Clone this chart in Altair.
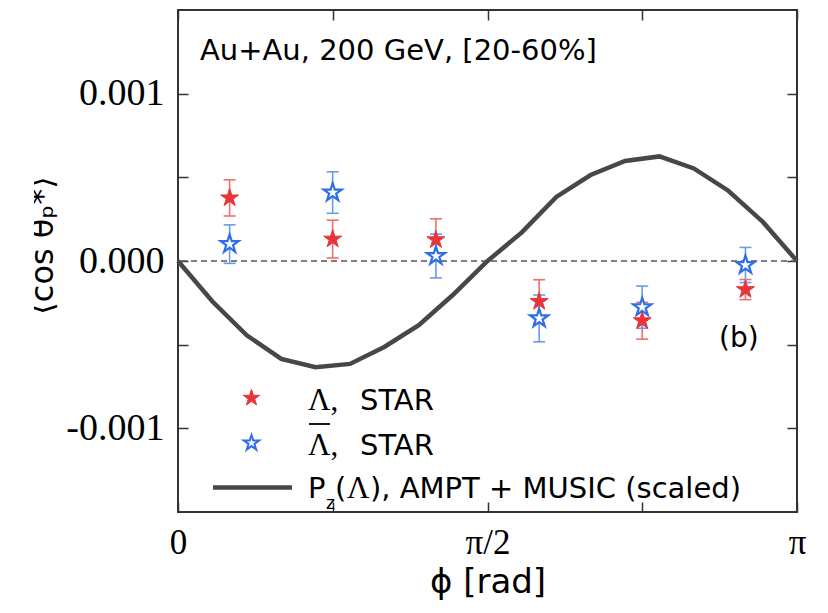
import altair as alt
import pandas as pd

# ---------------- data ----------------
phi_bins = [0.262, 0.785, 1.309, 1.833, 2.356, 2.880]
lam_vals = [0.000377, 0.000131, 0.000127, -0.000242, -0.000357, -0.000171]
lam_errs = [0.000108, 0.000113, 0.000125, 0.000130, 0.000110, 0.000060]
alam_vals = [0.000101, 0.000409, 0.000030, -0.000343, -0.000276, -0.000024]
alam_errs = [0.000115, 0.000124, 0.000131, 0.000140, 0.000126, 0.000105]

model_phi = [0.0, 0.175, 0.349, 0.524, 0.698, 0.873, 1.047, 1.222, 1.396, 1.571,
             1.745, 1.920, 2.094, 2.269, 2.443, 2.618, 2.793, 2.967, 3.14159265]
model_vals = [0.0, -0.000242, -0.000444, -0.000585, -0.000635, -0.000615, -0.000514,
              -0.000383, -0.000202, 0.0, 0.000171, 0.000383, 0.000514, 0.000598,
              0.000625, 0.000553, 0.000420, 0.000235, 0.0]

x_tick_vals = [0.0, 0.785398163, 1.570796325, 2.35619449, 3.14159265]
y_tick_vals = [-0.001, -0.0005, 0.0, 0.0005, 0.001]
x_domain = [0.0, 3.14159265]
y_domain = [-0.0015, 0.0015]

RED = "#e8353b"
RED_BAR = "#ef7070"
BLUE = "#2d6fe6"
BLUE_BAR = "#6a9bec"
CURVE = "#474747"
STAR = ("M0,-1L0.2245,-0.309L0.9511,-0.309L0.3633,0.118L0.5878,0.809L0,0.382"
        "L-0.5878,0.809L-0.3633,0.118L-0.9511,-0.309L-0.2245,-0.309Z")

W, H = 619, 502

df_model = pd.DataFrame({"phi": model_phi, "val": model_vals})
df_lam = pd.DataFrame({"phi": phi_bins, "val": lam_vals,
                       "lo": [v - e for v, e in zip(lam_vals, lam_errs)],
                       "hi": [v + e for v, e in zip(lam_vals, lam_errs)]})
df_alam = pd.DataFrame({"phi": phi_bins, "val": alam_vals,
                        "lo": [v - e for v, e in zip(alam_vals, alam_errs)],
                        "hi": [v + e for v, e in zip(alam_vals, alam_errs)]})
one = pd.DataFrame({"a": [0]})

xs = alt.Scale(domain=x_domain, nice=False, zero=False)
ys = alt.Scale(domain=y_domain, nice=False, zero=False)

tick_common = dict(domain=False, grid=False, tickColor="#333333", tickWidth=1.5,
                   tickSize=10, offset=-10, labelOverlap=False)

x_bottom = alt.Axis(orient="bottom", values=x_tick_vals,
                    labelExpr="abs(datum.value) < 0.01 ? '0' : abs(datum.value - PI/2) < 0.01 ? 'π/2' : abs(datum.value - PI) < 0.01 ? 'π' : ''",
                    labelFont="Liberation Serif", labelFontSize=35, labelColor="black",
                    labelPadding=13, labelFlush=False,
                    title="ϕ [rad]", titleFont="DejaVu Sans", titleFontSize=34,
                    titleFontWeight="normal", titleColor="black",
                    titleX=309.5, titleY=90, titleAlign="center", titleBaseline="alphabetic",
                    **tick_common)
y_left = alt.Axis(orient="left", values=y_tick_vals,
                  labelExpr="abs(datum.value) < 1e-9 ? '0.000' : abs(datum.value - 0.001) < 1e-9 ? '0.001' : abs(datum.value + 0.001) < 1e-9 ? '-0.001' : ''",
                  labelFont="Liberation Serif", labelFontSize=38, labelColor="black",
                  labelPadding=14,
                  title="⟨cos θₚ*⟩", titleFont="DejaVu Sans", titleFontSize=32,
                  titleFontWeight="normal", titleColor="black", titleAngle=270,
                  titleX=-136, titleY=235, titleAlign="center", titleBaseline="alphabetic",
                  **tick_common)
x_top = alt.Axis(orient="top", values=x_tick_vals, labels=False, title=None, **tick_common)
y_right = alt.Axis(orient="right", values=y_tick_vals, labels=False, title=None, **tick_common)

# model curve (carries the bottom / left axes)
curve = alt.Chart(df_model).mark_line(color=CURVE, strokeWidth=4.5).encode(
    x=alt.X("phi:Q", scale=xs, axis=x_bottom),
    y=alt.Y("val:Q", scale=ys, axis=y_left),
)

zero_line = alt.Chart(one).mark_rule(color="#555555", strokeWidth=1.5, strokeDash=[6, 4]).encode(
    y=alt.YDatum(0, scale=ys, axis=None)
)


def err_layers(df, color):
    bars = alt.Chart(df).mark_rule(color=color, strokeWidth=1.6).encode(
        x=alt.X("phi:Q", scale=xs, axis=None),
        y=alt.Y("lo:Q", scale=ys, axis=None),
        y2="hi:Q",
    )
    caps = alt.Chart(df).transform_fold(["lo", "hi"], as_=["end", "v"]).mark_tick(
        color=color, orient="horizontal", size=12, thickness=1.6, opacity=1
    ).encode(
        x=alt.X("phi:Q", scale=xs, axis=None),
        y=alt.Y("v:Q", scale=ys, axis=None),
    )
    return bars + caps


red_err = err_layers(df_lam, RED_BAR)
blue_err = err_layers(df_alam, BLUE_BAR)

red_pts = alt.Chart(df_lam).mark_point(shape=STAR, filled=True, fill=RED, stroke=RED,
                                       strokeWidth=1, size=360, opacity=1).encode(
    x=alt.X("phi:Q", scale=xs, axis=x_top),
    y=alt.Y("val:Q", scale=ys, axis=y_right),
)
blue_pts = alt.Chart(df_alam).mark_point(shape=STAR, filled=True, fill="white", stroke=BLUE,
                                         strokeWidth=2.2, size=360, opacity=1).encode(
    x=alt.X("phi:Q", scale=xs, axis=None),
    y=alt.Y("val:Q", scale=ys, axis=None),
)


def label(txt, x, y, font="DejaVu Sans", size=29, align="left"):
    return alt.Chart(one).mark_text(text=txt, font=font, fontSize=size, align=align,
                                    baseline="alphabetic", color="black").encode(
        x=alt.value(x), y=alt.value(y))


texts = [
    label("Au+Au, 200 GeV, [20-60%]", 22, 50, size=29),
    label("(b)", 541, 337, size=28),
    label("Λ,", 130, 400, font="Liberation Serif", size=31),
    label("STAR", 182, 400),
    label("Λ,", 130, 445, font="Liberation Serif", size=31),
    label("STAR", 182, 445),
    label("P", 130, 488),
    label("z", 148, 499, size=17),
    label("(", 157, 488),
    label("Λ", 169, 488, font="Liberation Serif", size=31),
    label("), AMPT + MUSIC (scaled)", 192, 488),
]

# overline of the anti-Lambda symbol
bar_line = alt.Chart(one).mark_rule(color="black", strokeWidth=1.8).encode(
    x=alt.value(131), x2=alt.value(152), y=alt.value(414))

leg_red = alt.Chart(one).mark_point(shape=STAR, filled=True, fill=RED, stroke=RED,
                                    strokeWidth=1, size=300, opacity=1).encode(
    x=alt.value(73.5), y=alt.value(388))
leg_blue = alt.Chart(one).mark_point(shape=STAR, filled=True, fill="white", stroke=BLUE,
                                     strokeWidth=2, size=260, opacity=1).encode(
    x=alt.value(73.5), y=alt.value(433))
leg_line = alt.Chart(one).mark_rule(color=CURVE, strokeWidth=4.5).encode(
    x=alt.value(35), x2=alt.value(114), y=alt.value(477.5))

# mask that crops the y title like in the reference
mask = alt.Chart(one).mark_rect(color="white").encode(
    x=alt.value(-172), x2=alt.value(-144), y=alt.value(-4), y2=alt.value(595))

chart = alt.layer(
    curve, zero_line, red_err, blue_err, red_pts, blue_pts,
    leg_red, leg_blue, leg_line, bar_line, *texts, mask
).resolve_axis(x="independent", y="independent").properties(
    width=W, height=H,
    padding={"left": 170, "top": 2, "right": 19, "bottom": 90},
    autosize=alt.AutoSizeParams(type="none"),
).configure_view(stroke="#333333", strokeWidth=2)

chart.save("out.html", embed_options={"renderer": "svg", "actions": False})
